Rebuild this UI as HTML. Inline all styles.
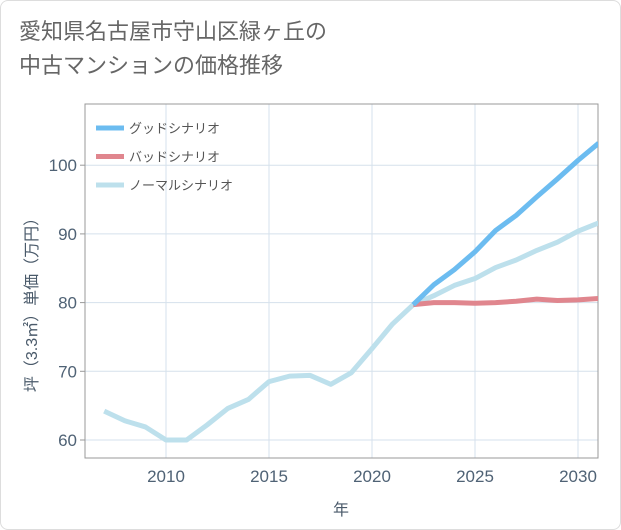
<!DOCTYPE html>
<html><head><meta charset="utf-8"><style>
body{margin:0;background:#fff;}
.wrap{position:relative;width:619px;height:528px;border:1px solid #ddd;border-radius:8px;background:#fff;overflow:hidden;font-family:"Liberation Sans","Noto Sans CJK JP",sans-serif;}
.title{position:absolute;left:18px;top:14px;font-size:22px;line-height:34px;color:#666;}
</style></head><body>
<div class="wrap">
<div class="title">愛知県名古屋市守山区緑ヶ丘の<br>中古マンションの価格推移</div>
<svg id="chart" width="621" height="530" style="position:absolute;left:0;top:0"></svg>
</div>
<script>
const years=[2007,2008,2009,2010,2011,2012,2013,2014,2015,2016,2017,2018,2019,2020,2021,2022,2023,2024,2025,2026,2027,2028,2029,2030,2031];
const normalVals=[64.2,62.8,61.9,60.0,60.0,62.2,64.6,65.9,68.5,69.3,69.4,68.1,69.8,73.3,76.9,79.7,81.0,82.5,83.5,85.1,86.2,87.6,88.8,90.4,91.6];
const goodYears=[2022,2023,2024,2025,2026,2027,2028,2029,2030,2031];
const goodVals=[79.7,82.6,84.8,87.4,90.5,92.7,95.4,98.0,100.7,103.2];
const badVals=[79.7,80.0,80.0,79.9,80.0,80.2,80.5,80.3,80.4,80.6];
const xTicks=[2010,2015,2020,2025,2030];
const yTicks=[60,70,80,90,100];
const legendLabels=["グッドシナリオ","バッドシナリオ","ノーマルシナリオ"];
const legendColors=["#6cbcf0","#e0868e","#bde0ec"];

const NS="http://www.w3.org/2000/svg";
const svg=document.getElementById('chart');
const L=84,R=597,T=103,B=457;
const x=v=>165+(v-2010)*20.6;
const y=v=>439-(v-60)*6.87;
function mk(t,a,p){const e=document.createElementNS(NS,t);for(const k in a)e.setAttribute(k,a[k]);(p||svg).appendChild(e);return e;}
const clip=mk('clipPath',{id:'pc'});mk('rect',{x:L,y:T,width:R-L,height:B-T},clip);
xTicks.forEach(v=>{
 const g=mk('line',{x1:x(v),x2:x(v),y1:T,y2:B,stroke:'#d5e1ec','stroke-width':1});
 
 
 const t=mk('text',{x:x(v),y:B+24,'text-anchor':'middle','font-size':17,fill:'#4f6275'});
 t.textContent=v;
 
 
});
yTicks.forEach(v=>{
 const g=mk('line',{x1:L,x2:R,y1:y(v),y2:y(v),stroke:'#d5e1ec','stroke-width':1});
 
 
 mk('line',{x1:L-5,x2:L,y1:y(v),y2:y(v),stroke:'#999'});
 const t=mk('text',{x:L-8,y:y(v)+6,'text-anchor':'end','font-size':17,fill:'#4f6275'});
 t.textContent=v;
 
 
});
const fr=mk('rect',{x:L,y:T,width:R-L,height:B-T,fill:'none',stroke:'#999','stroke-width':1});


function line(xs,vs,c,name){
 const p=mk('polyline',{points:xs.map((v,i)=>x(v)+','+y(vs[i])).join(' '),fill:'none',stroke:c,'stroke-width':5,'stroke-linejoin':'round','clip-path':'url(#pc)'});
 
 
}
line(years,normalVals,legendColors[2],'normal-scenario-line');
line(goodYears,badVals,legendColors[1],'bad-scenario-line');
line(goodYears,goodVals,legendColors[0],'good-scenario-line');
legendLabels.forEach((s,i)=>{
 const yy=127+i*28.5;
 const l=mk('line',{x1:95,x2:123,y1:yy,y2:yy,stroke:legendColors[i],'stroke-width':5});
 
 
 const t=mk('text',{x:128,y:yy+5,'font-size':13,fill:'#555'});
 t.textContent=s;
 
 
});
const xt=mk('text',{x:340,y:514,'text-anchor':'middle','font-size':16,fill:'#4a5a6a'});
xt.textContent='年';


const yt=mk('text',{x:0,y:0,'text-anchor':'middle','font-size':16,fill:'#4a5a6a',transform:'translate(36,300) rotate(-90)'});
yt.textContent='坪（3.3㎡）単価（万円）';


</script>
</body></html>
